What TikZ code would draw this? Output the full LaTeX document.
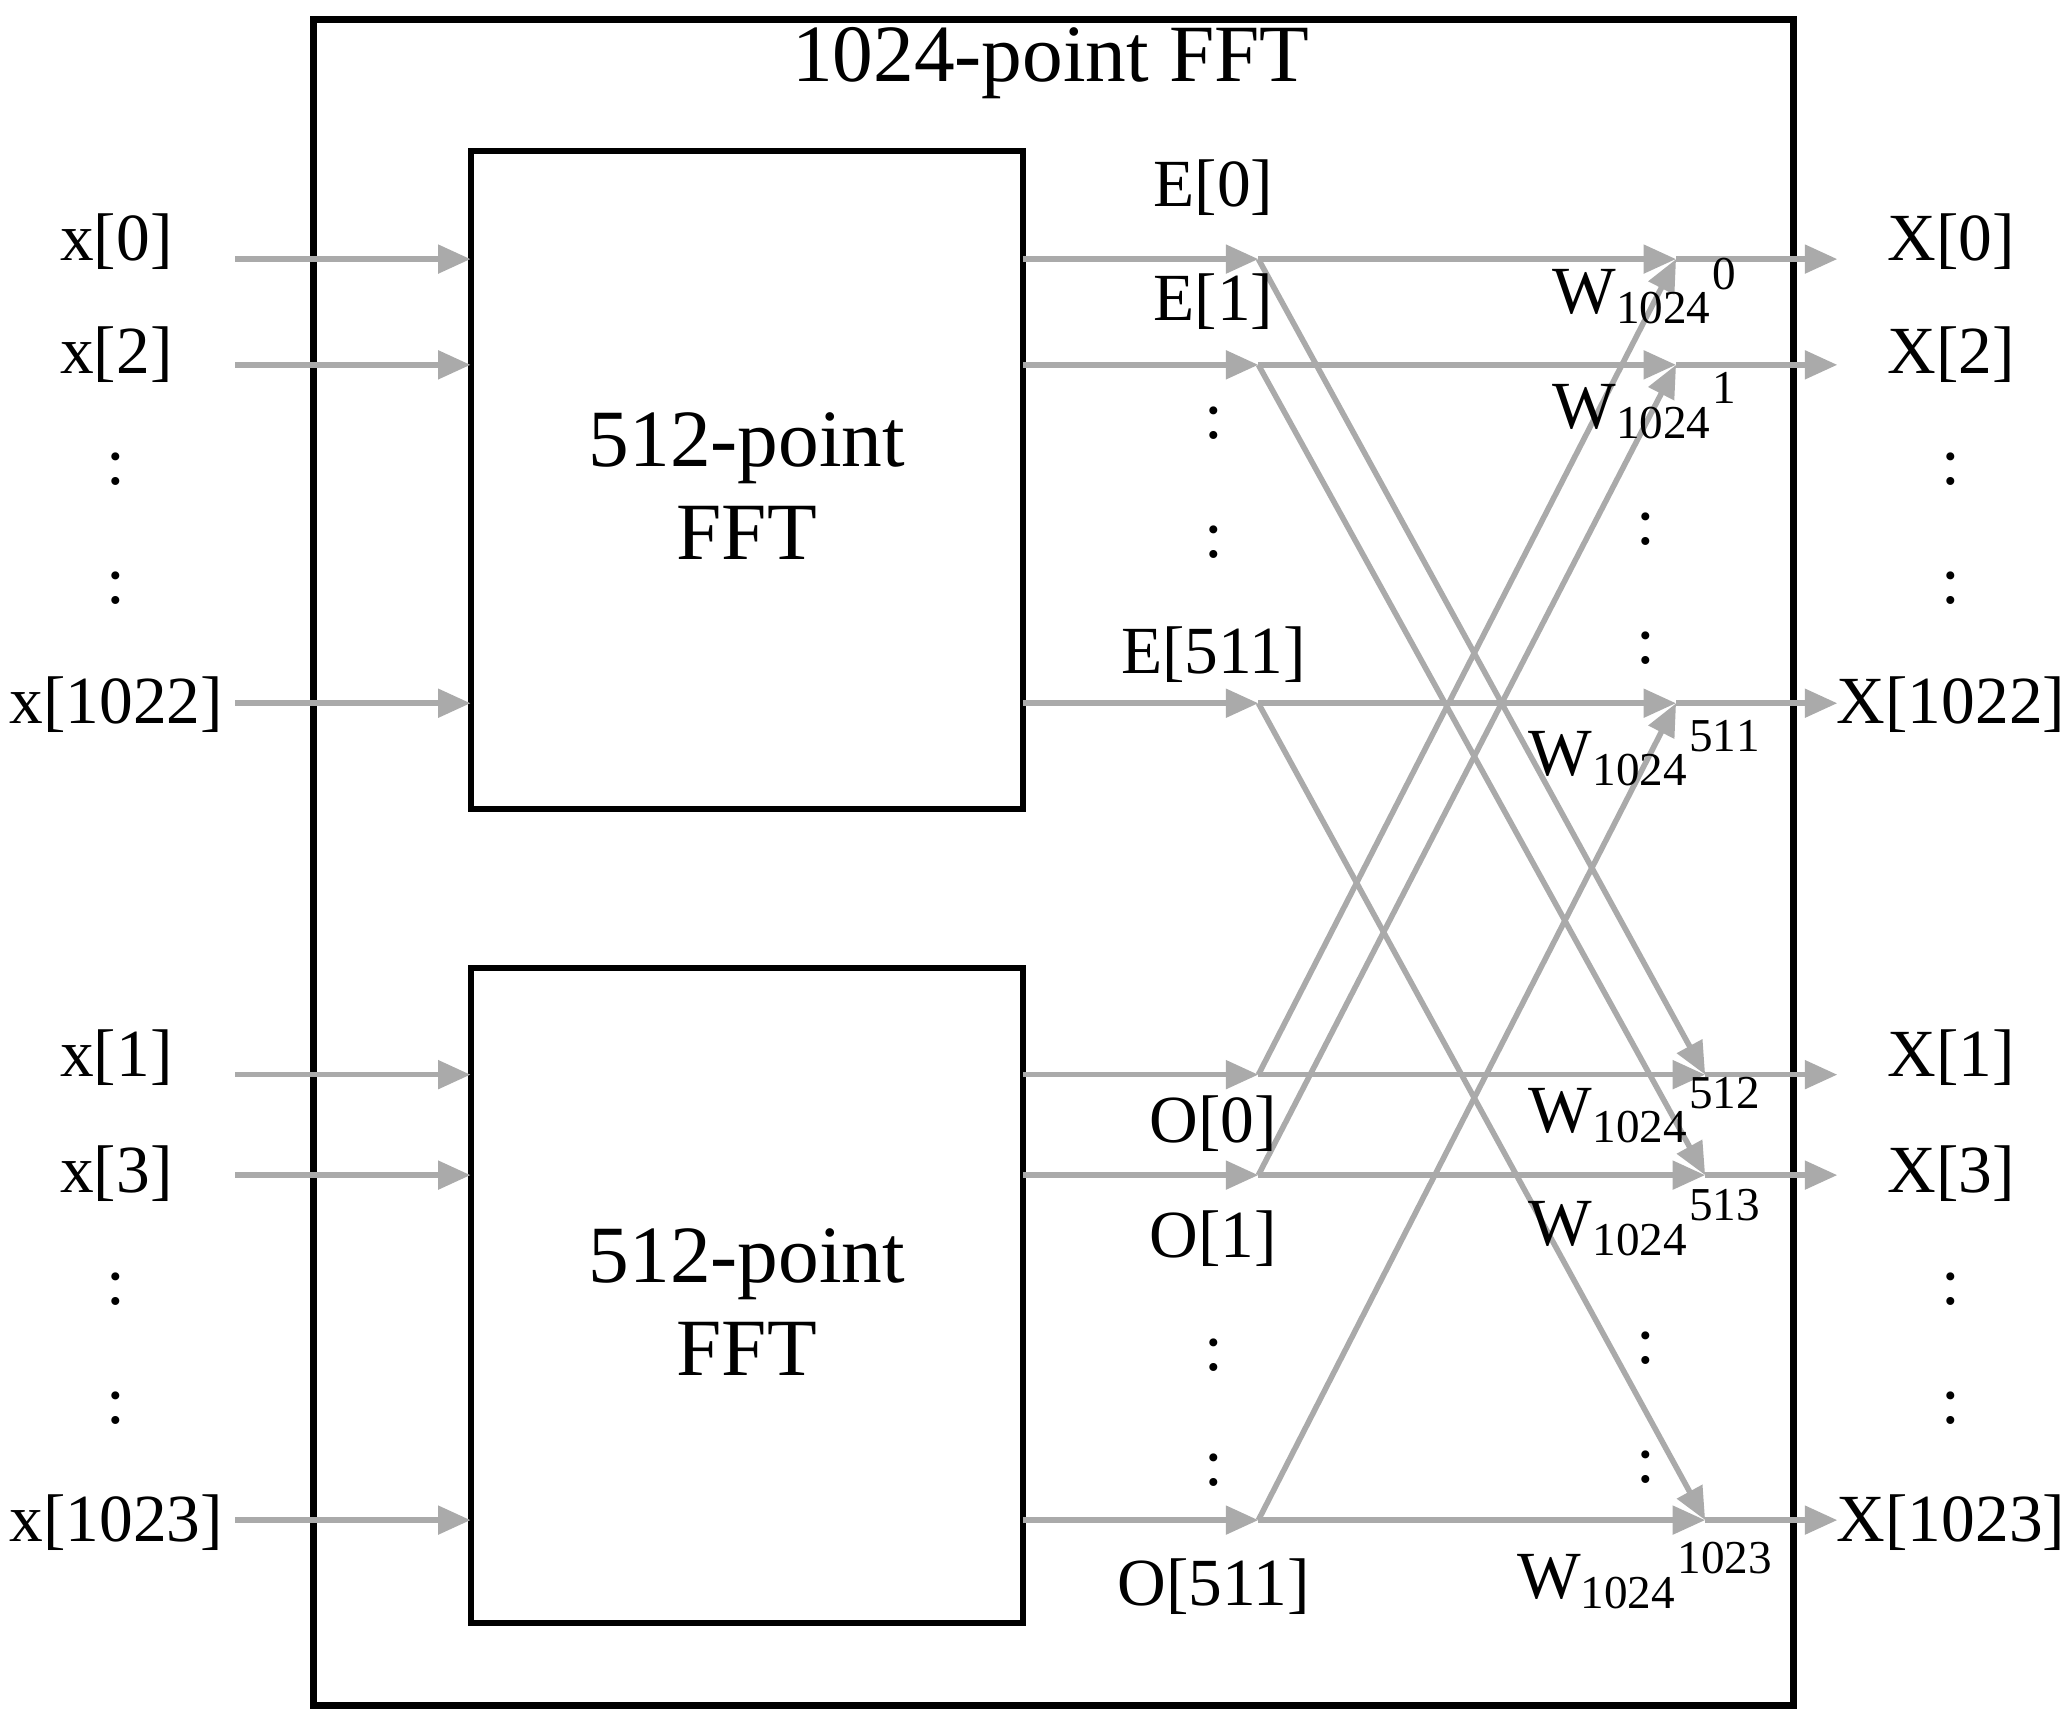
\documentclass[tikz,border=0pt]{standalone}
\usepackage{fontspec}
\setmainfont{Liberation Serif}
\usetikzlibrary{arrows.meta}
\begin{document}
\begin{tikzpicture}[x=0.01cm,y=-0.01cm,
 sig/.style={draw={rgb,255:red,170;green,170;blue,170},line width=1.2pt,-{Triangle[length=7pt,width=6pt]}},
 ln/.style={draw={rgb,255:red,170;green,170;blue,170},line width=1.2pt},
 lab/.style={font=\fontsize{14.5}{16}\selectfont,inner sep=0pt},
 big/.style={font=\fontsize{17.5}{20}\selectfont,inner sep=0pt,align=center},
 blk/.style={draw=black,line width=1.3pt}]
\useasboundingbox (0,0) rectangle (1563,1305);
\draw[blk,line width=1.5pt] (237,15) rectangle (1357,1290);
\node[big] (title) at (795,48) {1024-point FFT};
\draw[blk] (356,114) rectangle (774,612);
\draw[blk] (356,732) rectangle (774,1228);
\node[big] (f1) at (565,368) {512-point\\FFT};
\node[big] (f2) at (565,985) {512-point\\FFT};
% inputs
\foreach \y/\t in {196/a,276/b,532/c,813/d,889/e,1150/f}{
 \coordinate (in\t) at (178,\y); \coordinate (bi\t) at (356,\y);
 \coordinate (bo\t) at (774,\y); \coordinate (n\t) at (952,\y);
 \coordinate (o\t) at (1390,\y);
 \draw[sig] (in\t) -- (bi\t);
 \draw[sig] (bo\t) -- (n\t);}
\foreach \t/\y in {a/196,b/276,c/532}{\coordinate (j\t) at (1268,\y);}
\foreach \t/\y in {d/813,e/889,f/1150}{\coordinate (j\t) at (1290,\y);}
\foreach \t in {a,b,c,d,e,f}{\draw[sig] (n\t) -- (j\t); \draw[sig] (j\t) -- (o\t);}
\draw[sig] (na) -- (jd); \draw[sig] (nb) -- (je); \draw[sig] (nc) -- (jf);
\draw[sig] (nd) -- (ja); \draw[sig] (ne) -- (jb); \draw[sig] (nf) -- (jc);
% left labels
\foreach \y/\s [count=\i] in {183/{x[0]},268/{x[2]},355/{:},445/{:},533/{x[1022]},800/{x[1]},888/{x[3]},975/{:},1065/{:},1152/{x[1023]}}
 \node[lab] (l\i) at (88,\y) {\s};
\foreach \y/\s [count=\i] in {142/{E[0]},228/{E[1]},320/{:},410/{:},495/{E[511]},850/{O[0]},937/{O[1]},1025/{:},1112/{:},1200/{O[511]}}
 \node[lab] (m\i) at (918,\y) {\s};
\foreach \y/\s [count=\i] in {183/{X[0]},268/{X[2]},355/{:},445/{:},533/{X[1022]},800/{X[1]},888/{X[3]},975/{:},1065/{:},1152/{X[1023]}}
 \node[lab] (r\i) at (1476,\y) {\s};
\foreach \y/\s [count=\i] in {220/0,307/1,570/511,840/512,925/513,1192/1023}
 \node[lab] (w\i) at (1245,\y) {W$_{\mathrm{1024}}$$^{\mathrm{\s}}$};
\foreach \y [count=\i] in {400,490,1020,1110}
 \node[lab] (wd\i) at (1245,\y) {:};
\end{tikzpicture}
\end{document}
